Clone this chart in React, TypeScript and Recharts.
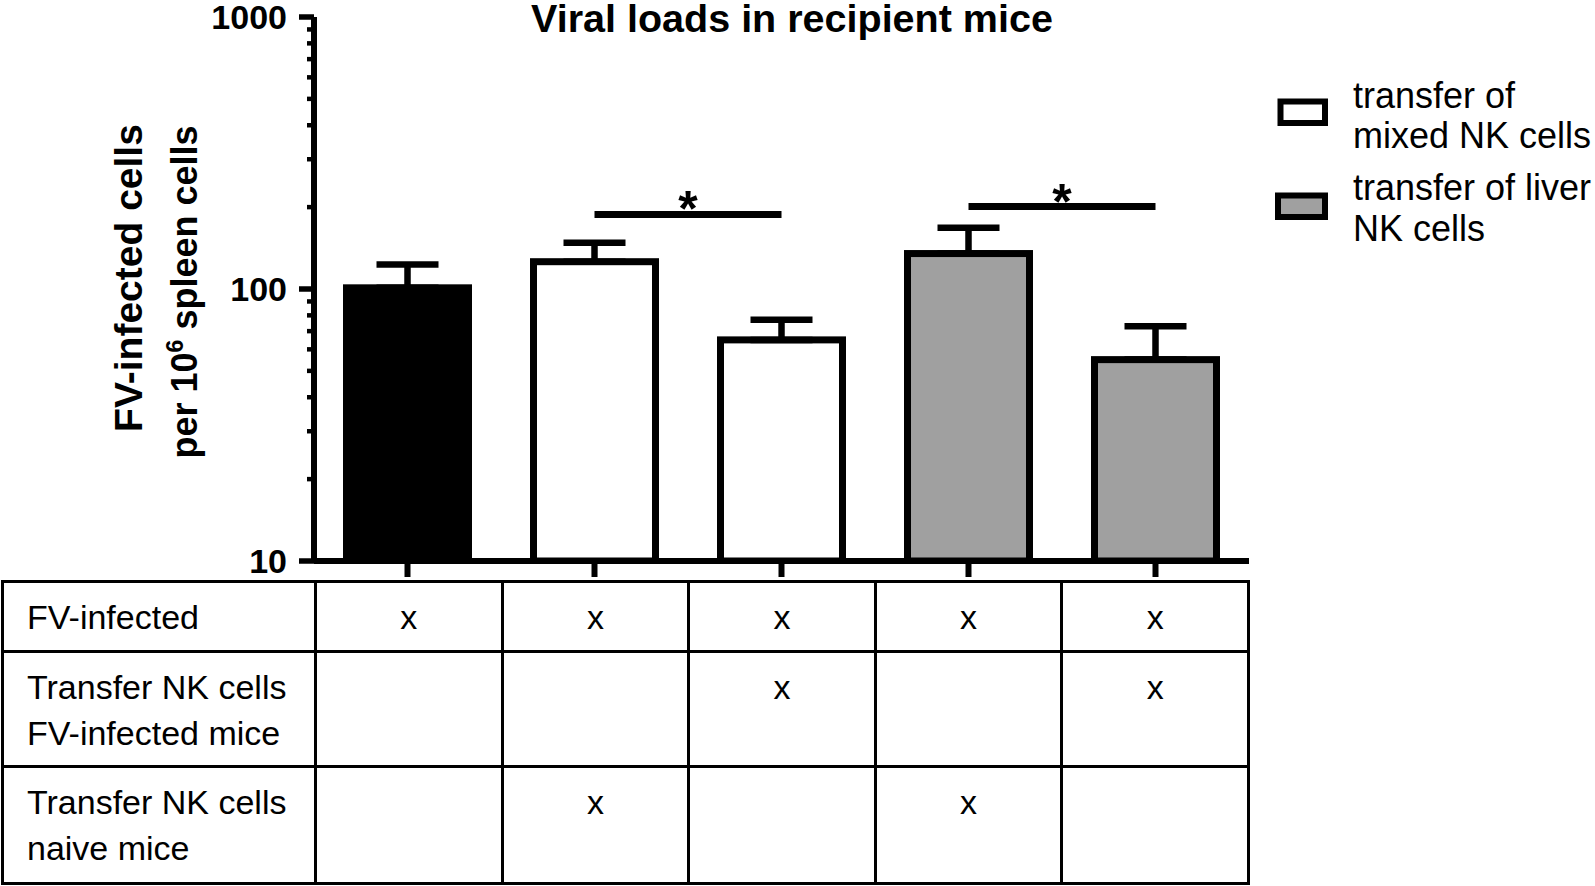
import React from 'react';
import { BarChart, Bar, XAxis, YAxis, ErrorBar, ReferenceLine } from 'recharts';

const FONT = '"Liberation Sans", Arial, Helvetica, sans-serif';

// groups in plotting order
const groups = ['FV', 'FV+mixed naive', 'FV+mixed FV', 'FV+liver naive', 'FV+liver FV'];
const means = [101, 126, 65, 135, 55];
const upperErr = [22, 22, 12, 33, 18];
const fills = ['#000000', '#ffffff', '#ffffff', '#a0a0a0', '#a0a0a0'];

const yTicks = [10, 20, 30, 40, 50, 60, 70, 80, 90, 100, 200, 300, 400, 500, 600, 700, 800, 900, 1000];
const majorTicks = [10, 100, 1000];

// significance brackets: from group, to group, height on y scale
const sigFrom = ['FV+mixed naive', 'FV+liver naive'];
const sigTo = ['FV+mixed FV', 'FV+liver FV'];
const sigY = [188, 201];

const legendLines = [['transfer of', 'mixed NK cells'], ['transfer of liver', 'NK cells']];
const legendFills = ['#ffffff', '#a0a0a0'];

const rowLabels = [['FV-infected'], ['Transfer NK cells', 'FV-infected mice'], ['Transfer NK cells', 'naive mice']];
const rowMarks = [
  [1, 1, 1, 1, 1],
  [0, 0, 1, 0, 1],
  [0, 1, 0, 1, 0],
];

const data = groups.map((g, i) => ({ group: g, mean: means[i], err: [0, upperErr[i]], fill: fills[i] }));

const BarShape = (props: any) => {
  const { x, y, width, height, payload } = props;
  if (payload.fill === '#000000') {
    return <rect x={x} y={y - 3.5} width={width} height={height + 3.5} fill="#000" />;
  }
  return <rect x={x + 3.5} y={y} width={width - 7} height={height} fill={payload.fill} stroke="#000" strokeWidth={7} />;
};

const YTick = (props: any) => {
  const { x, y, payload } = props;
  const major = majorTicks.includes(payload.value);
  return (
    <g>
      <line x1={x - (major ? 15 : 7)} x2={x} y1={y} y2={y} stroke="#000" strokeWidth={major ? 5.5 : 4.5} />
      {major && (
        <text x={x - 27} y={y} dy="0.36em" textAnchor="end" fontSize={34} fontWeight={700} fill="#000" fontFamily={FONT}>
          {payload.value}
        </text>
      )}
    </g>
  );
};

const App = () => {
  return (
    <div style={{ position: 'absolute', left: 0, top: 0, width: 1595, height: 886, background: '#fff', fontFamily: FONT }}>
      <BarChart width={1595} height={886} data={data} margin={{ top: 17, right: 346, bottom: 295, left: 0 }} barSize={129}>
        <XAxis
          dataKey="group"
          tickFormatter={() => ''}
          interval={0}
          height={30}
          tickSize={16}
          tickLine={{ stroke: '#000', strokeWidth: 6 }}
          axisLine={{ stroke: '#000', strokeWidth: 6 }}
        />
        <YAxis
          type="number"
          scale="log"
          domain={[10, 1000]}
          allowDataOverflow
          ticks={yTicks}
          interval={0}
          width={314}
          tickLine={false}
          tickSize={0}
          tickMargin={0}
          tick={<YTick />}
          axisLine={{ stroke: '#000', strokeWidth: 6 }}
        />
        <Bar dataKey="mean" shape={<BarShape />} isAnimationActive={false}>
          <ErrorBar dataKey="err" width={31} stroke="#000" strokeWidth={6.5} direction="y" isAnimationActive={false} />
        </Bar>
        {sigY.map((v, i) => (
          <ReferenceLine
            key={i}
            segment={[{ x: sigFrom[i], y: v }, { x: sigTo[i], y: v }]}
            stroke="#000"
            strokeWidth={7}
            label={{ value: '*', position: 'top', offset: -12, fontSize: 50, fontWeight: 700, fill: '#000', fontFamily: FONT }}
          />
        ))}
      </BarChart>

      <svg width={1595} height={886} style={{ position: 'absolute', left: 0, top: 0, pointerEvents: 'none' }} fontFamily={FONT}>
        <text x={792} y={31.5} textAnchor="middle" fontSize={39.5} fontWeight={700} fill="#000">
          Viral loads in recipient mice
        </text>
        <text transform="translate(142,278) rotate(-90)" textAnchor="middle" fontSize={39} fontWeight={700} fill="#000">
          FV-infected cells
        </text>
        <text transform="translate(197,292) rotate(-90)" textAnchor="middle" fontSize={36} fontWeight={700} fill="#000">
          per 10<tspan fontSize={23} dy={-14}>6</tspan>
          <tspan dy={14}> spleen cells</tspan>
        </text>
        {legendLines.map((lines, i) => (
          <g key={i}>
            <rect x={1280.5 - (i ? 2.5 : 0)} y={101.5 + i * 94} width={44.5 + (i ? 2.5 : 0)} height={21.5} fill={legendFills[i]} stroke="#000" strokeWidth={6} />
            {lines.map((t, j) => (
              <text key={j} x={1353} y={94.6 + i * 92.5 + j * 40.7} dy="0.36em" fontSize={36} fill="#000">
                {t}
              </text>
            ))}
          </g>
        ))}
      </svg>

      <div
        style={{
          position: 'absolute',
          left: 1,
          top: 580,
          display: 'grid',
          gridTemplateColumns: '310px repeat(5, 183.6px)',
          gridTemplateRows: '66.5px 112px 114px',
          gap: 3,
          padding: 3,
          background: '#000',
        }}
      >
        {rowLabels.map((lines, r) => (
          <React.Fragment key={r}>
            <div style={{ background: '#fff', paddingTop: 11, paddingLeft: 23, fontSize: 34, lineHeight: '46px', color: '#000' }}>
              {lines.map((t, j) => (
                <div key={j}>{t}</div>
              ))}
            </div>
            {rowMarks[r].map((m, c) => (
              <div key={c} style={{ background: '#fff', paddingTop: 11, textAlign: 'center', fontSize: 34, lineHeight: '46px', color: '#000' }}>
                {m ? 'x' : ''}
              </div>
            ))}
          </React.Fragment>
        ))}
      </div>
    </div>
  );
};

export default App;
